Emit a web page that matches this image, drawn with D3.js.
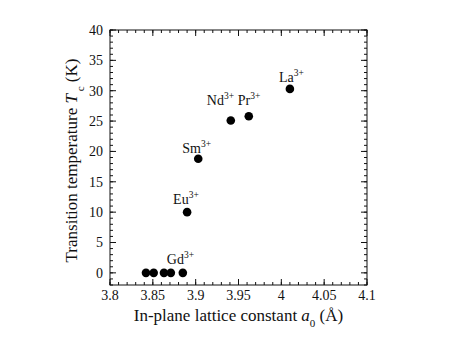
<!DOCTYPE html>
<html>
<head>
<meta charset="utf-8">
<script src="https://cdn.jsdelivr.net/npm/d3@7"></script>
<style>
body { margin: 0; background: #fff; }
svg text { font-family: "Liberation Serif", "Times New Roman", serif; fill: #111; }
</style>
</head>
<body>
<div id="chart-area"></div>
<script>

// data
var latticeA = [3.842, 3.851, 3.863, 3.871, 3.885, 3.890, 3.903, 3.941, 3.962, 4.010];
var tcValues = [0, 0, 0, 0, 0, 10, 18.8, 25.1, 25.8, 30.3];
var ionNames = ["Gd", "Eu", "Sm", "Nd", "Pr", "La"];
var ionPoint = [4, 5, 6, 7, 8, 9];   // which point each label sits by
var xTicks = [3.8, 3.85, 3.9, 3.95, 4, 4.05, 4.1];
var yTicks = [0, 5, 10, 15, 20, 25, 30, 35, 40];

var margin = {top: 30, right: 96, bottom: 73, left: 110};
var width = 463 - margin.left - margin.right,
    height = 358 - margin.top - margin.bottom;

var svg = d3.select("#chart-area").append("svg")
    .attr("width", 463)
    .attr("height", 358)
  .append("g")
    .attr("transform", "translate(" + margin.left + "," + margin.top + ")");

var x = d3.scaleLinear().domain([3.8, 4.1]).range([0, width]);
var y = d3.scaleLinear().domain([-2, 40]).range([height, 0]);

// frame
svg.append("rect")
    .attr("width", width).attr("height", height)
    .attr("fill", "none").attr("stroke", "#111").attr("stroke-width", 1);

// ticks (inward, on every side)
var xMinor = d3.range(3.8, 4.1001, 0.01);
var yMinor = d3.range(-2, 40.001, 1);

function tickLines(vals, scale, horiz, len, cls) {
    [0, 1].forEach(function(side) {
        svg.selectAll("." + cls + side)
            .data(vals)
          .enter().append("line")
            .attr("class", cls + side)
            .attr("stroke", "#111").attr("stroke-width", 1)
            .attr("x1", function(d) { return horiz ? scale(d) : (side ? width : 0); })
            .attr("x2", function(d) { return horiz ? scale(d) : (side ? width - len : len); })
            .attr("y1", function(d) { return horiz ? (side ? 0 : height) : scale(d); })
            .attr("y2", function(d) { return horiz ? (side ? len : height - len) : scale(d); });
    });
}
tickLines(xMinor, x, true, 3, "xmin");
tickLines(xTicks, x, true, 6, "xmaj");
tickLines(yMinor, y, false, 3, "ymin");
tickLines(yTicks, y, false, 6, "ymaj");

// tick labels
svg.selectAll(".xlab")
    .data(xTicks)
  .enter().append("text")
    .attr("class", "xlab")
    .attr("x", function(d) { return x(d); })
    .attr("y", height + 15)
    .attr("text-anchor", "middle")
    .style("font-size", "14px")
    .text(function(d) { return d; });

svg.selectAll(".ylab")
    .data(yTicks)
  .enter().append("text")
    .attr("class", "ylab")
    .attr("x", -7)
    .attr("y", function(d) { return y(d); })
    .attr("dy", "0.35em")
    .attr("text-anchor", "end")
    .style("font-size", "14px")
    .text(function(d) { return d; });

// axis titles
var xt = svg.append("text")
    .attr("x", width / 2)
    .attr("y", height + 36)
    .attr("text-anchor", "middle")
    .style("font-size", "17px");
xt.append("tspan").text("In-plane lattice constant ");
xt.append("tspan").style("font-style", "italic").text("a");
xt.append("tspan").attr("dy", 6).style("font-size", "11px").text("0");
xt.append("tspan").attr("dy", -6).text(" (\u00C5)");

var yt = svg.append("text")
    .attr("transform", "translate(-33," + (height / 2 + 3) + ") rotate(-90)")
    .attr("text-anchor", "middle")
    .style("font-size", "17px");
yt.append("tspan").text("Transition temperature ");
yt.append("tspan").style("font-style", "italic").text("T");
yt.append("tspan").attr("dy", 7).style("font-size", "11px").text(" c");
yt.append("tspan").attr("dy", -7).text(" (K)");

// points
svg.selectAll(".dot")
    .data(latticeA)
  .enter().append("circle")
    .attr("class", "dot")
    .attr("cx", function(d) { return x(d); })
    .attr("cy", function(d, i) { return y(tcValues[i]); })
    .attr("r", 4.3)
    .attr("fill", "#000");

// ion labels
var offs = [[-16, -9], [-14, -8], [-16, -6], [-24, -15], [-11, -11], [-11, -7]];
var labs = svg.selectAll(".ion")
    .data(ionNames)
  .enter().append("text")
    .attr("class", "ion")
    .attr("x", function(d, i) { return x(latticeA[ionPoint[i]]) + offs[i][0]; })
    .attr("y", function(d, i) { return y(tcValues[ionPoint[i]]) + offs[i][1]; })
    .style("font-size", "14px");
labs.append("tspan").text(function(d) { return d; });
labs.append("tspan").attr("dy", -6).style("font-size", "9.5px").text("3+");

</script>
</body>
</html>
